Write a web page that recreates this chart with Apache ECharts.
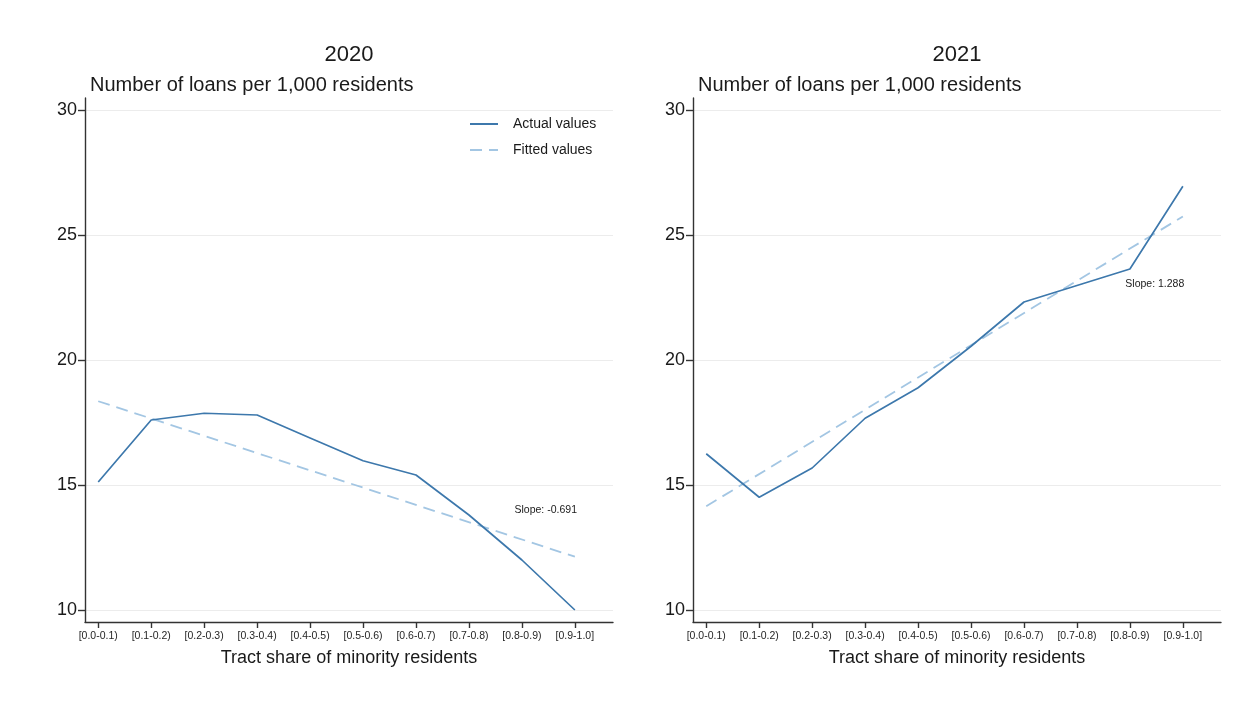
<!DOCTYPE html>
<html>
<head>
<meta charset="utf-8">
<title>Number of loans per 1,000 residents by tract minority share</title>
<script src="https://cdn.jsdelivr.net/npm/echarts@6/dist/echarts.min.js"></script>
<style>
  html, body { margin: 0; padding: 0; background: #ffffff; }
  #chart { width: 1248px; height: 702px; }
</style>
</head>
<body>
<div id="chart"></div>
<script>
// Tract minority-share bins (x axis categories)
const categories = ['[0.0-0.1)', '[0.1-0.2)', '[0.2-0.3)', '[0.3-0.4)', '[0.4-0.5)',
                    '[0.5-0.6)', '[0.6-0.7)', '[0.7-0.8)', '[0.8-0.9)', '[0.9-1.0]'];

// Loans per 1,000 residents, actual values
const actual2020 = [15.12, 17.6, 17.87, 17.8, 16.88, 15.97, 15.4, 13.8, 12.0, 10.0];
const actual2021 = [16.25, 14.51, 15.68, 17.67, 18.89, 20.55, 22.32, 22.98, 23.64, 26.95];

// Linear fit: value at the first bin and slope per bin
const fit2020 = { start: 18.35, slope: -0.691 };
const fit2021 = { start: 14.15, slope: 1.288 };

// Where the slope note sits, in data units [bin, value]
const slopeNote2020 = [8.45, 14.0];
const slopeNote2021 = [8.47, 23.05];

const yTicks = [10, 15, 20, 25, 30];
const panelTitles = ['2020', '2021'];
const yTitle = 'Number of loans per 1,000 residents';
const xTitle = 'Tract share of minority residents';

const ACTUAL_COLOR = '#3d78ac';
const FIT_COLOR = '#a3c6e3';
const AXIS_COLOR = '#333333';
const TEXT_COLOR = '#1a1a1a';
const FONT = '"Liberation Sans", Arial, sans-serif';

const binIndex = categories.map((_, i) => i);
const toPoints = arr => arr.map((v, i) => [i, v]);
const fitLine = f => [[0, f.start], [categories.length - 1, f.start + f.slope * (categories.length - 1)]];

const grids = [
  { left: 85, right: 635, top: 98, bottom: 80 },
  { left: 693, right: 27, top: 98, bottom: 80 }
];

function xAxisFor(gridIndex) {
  return {
    type: 'value', gridIndex: gridIndex,
    min: -0.25, max: 9.72,
    name: xTitle, nameLocation: 'middle', nameGap: 27,
    nameTextStyle: { fontFamily: FONT, fontSize: 18, color: TEXT_COLOR },
    axisLine: { show: true, onZero: false, lineStyle: { color: AXIS_COLOR, width: 1.4 } },
    axisTick: { show: true, inside: false, length: 6, customValues: binIndex, lineStyle: { color: AXIS_COLOR, width: 1.4 } },
    axisLabel: {
      customValues: binIndex, margin: 9,
      fontFamily: FONT, fontSize: 10.5, color: '#262626',
      formatter: v => categories[Math.round(v)]
    },
    splitLine: { show: false }
  };
}

function yAxisFor(gridIndex) {
  return {
    type: 'value', gridIndex: gridIndex,
    min: 9.52, max: 30.48,
    axisLine: { show: true, onZero: false, lineStyle: { color: AXIS_COLOR, width: 1.4 } },
    axisTick: { show: true, inside: false, length: 7, customValues: yTicks, lineStyle: { color: AXIS_COLOR, width: 1.4 } },
    axisLabel: { customValues: yTicks, margin: 8, fontFamily: FONT, fontSize: 18, color: TEXT_COLOR },
    splitLine: { show: true, lineStyle: { color: '#ececec', width: 1 } }
  };
}

function slopeMark(coord, text) {
  return {
    silent: true,
    symbol: 'circle', symbolSize: 0,
    data: [{ coord: coord }],
    label: {
      show: true, position: 'inside', formatter: text,
      fontFamily: FONT, fontSize: 10.5, color: TEXT_COLOR
    }
  };
}

function panelSeries(gridIndex, actual, fit, notePos) {
  return [
    {
      name: 'Actual values', type: 'line',
      xAxisIndex: gridIndex, yAxisIndex: gridIndex,
      data: toPoints(actual), symbol: 'none', z: 3,
      lineStyle: { color: ACTUAL_COLOR, width: 1.7 },
      itemStyle: { color: ACTUAL_COLOR }
    },
    {
      name: 'Fitted values', type: 'line',
      xAxisIndex: gridIndex, yAxisIndex: gridIndex,
      data: fitLine(fit), symbol: 'none', z: 2,
      lineStyle: { color: FIT_COLOR, width: 1.8, type: [12, 7] },
      itemStyle: { color: FIT_COLOR },
      markPoint: slopeMark(notePos, 'Slope: ' + fit.slope.toFixed(3))
    }
  ];
}

const titleTexts = [];
grids.forEach((g, i) => {
  const left = g.left;
  const right = 1248 - g.right;
  titleTexts.push({
    type: 'text', x: (left + right) / 2, y: 55,
    style: { text: panelTitles[i], font: '22px ' + FONT, fill: TEXT_COLOR, textAlign: 'center', textVerticalAlign: 'middle' }
  });
  titleTexts.push({
    type: 'text', x: left + 5, y: 85,
    style: { text: yTitle, font: '20px ' + FONT, fill: TEXT_COLOR, textAlign: 'left', textVerticalAlign: 'middle' }
  });
});

const chart = echarts.init(document.getElementById('chart'), null, { renderer: 'canvas' });
chart.setOption({
  backgroundColor: '#ffffff',
  animation: false,
  grid: grids,
  xAxis: [xAxisFor(0), xAxisFor(1)],
  yAxis: [yAxisFor(0), yAxisFor(1)],
  legend: {
    data: ['Actual values', 'Fitted values'],
    orient: 'vertical', left: 464, top: 112,
    itemWidth: 28, itemHeight: 14, itemGap: 12,
    itemStyle: { opacity: 0 },
    textStyle: { fontFamily: FONT, fontSize: 14, color: TEXT_COLOR, padding: [0, 0, 0, 10] }
  },
  graphic: titleTexts,
  series: [
    ...panelSeries(0, actual2020, fit2020, slopeNote2020),
    ...panelSeries(1, actual2021, fit2021, slopeNote2021)
  ]
});
</script>
</body>
</html>
